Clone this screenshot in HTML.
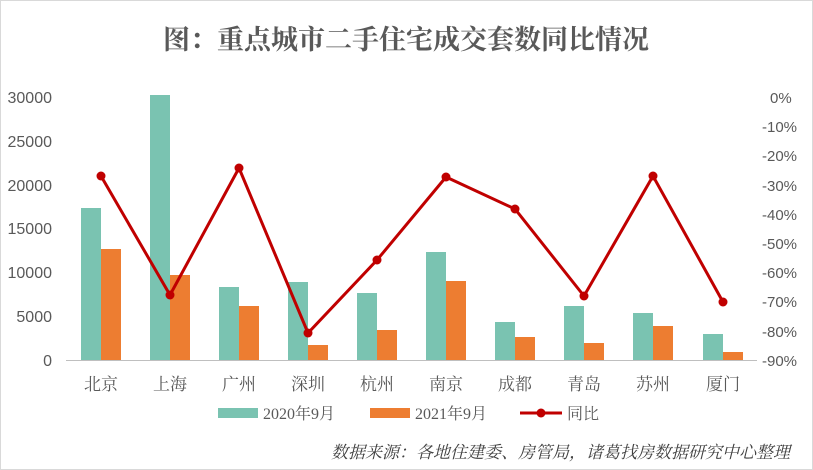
<!DOCTYPE html>
<html><head><meta charset="utf-8"><style>
body{margin:0;background:#fff;}
svg{display:block;}
</style></head><body>
<svg width="813" height="470" xmlns="http://www.w3.org/2000/svg" font-family="'Liberation Serif','Noto Serif CJK SC',serif">
<rect x="0.5" y="0.5" width="812" height="469" fill="#fff" stroke="#d9d9d9"/>
<text x="406" y="49" text-anchor="middle" font-size="27" font-weight="bold" fill="#595959" font-family="'Noto Serif CJK SC',serif">图：重点城市二手住宅成交套数同比情况</text>
<g font-size="16" fill="#595959" text-anchor="end" font-family="'Liberation Sans',sans-serif">
<text x="52" y="366">0</text><text x="52" y="322">5000</text><text x="52" y="278">10000</text>
<text x="52" y="234">15000</text><text x="52" y="191">20000</text><text x="52" y="147">25000</text><text x="52" y="103">30000</text>
</g>
<g font-size="15" fill="#595959" text-anchor="start" font-family="'Liberation Sans',sans-serif">
<text x="770" y="103">0%</text><text x="762" y="132">-10%</text><text x="762" y="161">-20%</text>
<text x="762" y="191">-30%</text><text x="762" y="220">-40%</text><text x="762" y="249">-50%</text>
<text x="762" y="278">-60%</text><text x="762" y="307">-70%</text><text x="762" y="337">-80%</text><text x="762" y="366">-90%</text>
</g>
<line x1="66" y1="360.5" x2="757" y2="360.5" stroke="#bfbfbf"/>
<g fill="#7ac3b1">
<rect x="81" y="208" width="20" height="152"/><rect x="150" y="95" width="20" height="265"/>
<rect x="219" y="287" width="20" height="73"/><rect x="288" y="282" width="20" height="78"/>
<rect x="357" y="293" width="20" height="67"/><rect x="426" y="252" width="20" height="108"/>
<rect x="495" y="322" width="20" height="38"/><rect x="564" y="306" width="20" height="54"/>
<rect x="633" y="313" width="20" height="47"/><rect x="703" y="334" width="20" height="26"/>
</g>
<g fill="#ed7d31">
<rect x="101" y="249" width="20" height="111"/><rect x="170" y="275" width="20" height="85"/>
<rect x="239" y="306" width="20" height="54"/><rect x="308" y="345" width="20" height="15"/>
<rect x="377" y="330" width="20" height="30"/><rect x="446" y="281" width="20" height="79"/>
<rect x="515" y="337" width="20" height="23"/><rect x="584" y="343" width="20" height="17"/>
<rect x="653" y="326" width="20" height="34"/><rect x="723" y="352" width="20" height="8"/>
</g>
<polyline fill="none" stroke="#c00000" stroke-width="3" points="101,176 170,295 239,168 308,333 377,260 446,177 515,209 584,296 653,176 723,302"/>
<g fill="#c00000">
<circle cx="101" cy="176" r="4.5"/><circle cx="170" cy="295" r="4.5"/><circle cx="239" cy="168" r="4.5"/>
<circle cx="308" cy="333" r="4.5"/><circle cx="377" cy="260" r="4.5"/><circle cx="446" cy="177" r="4.5"/>
<circle cx="515" cy="209" r="4.5"/><circle cx="584" cy="296" r="4.5"/><circle cx="653" cy="176" r="4.5"/>
<circle cx="723" cy="302" r="4.5"/>
</g>
<g font-size="17" fill="#595959" text-anchor="middle" font-family="'Noto Serif CJK SC',serif">
<text x="101" y="390">北京</text><text x="170" y="390">上海</text><text x="239" y="390">广州</text>
<text x="308" y="390">深圳</text><text x="377" y="390">杭州</text><text x="446" y="390">南京</text>
<text x="515" y="390">成都</text><text x="584" y="390">青岛</text><text x="653" y="390">苏州</text><text x="723" y="390">厦门</text>
</g>
<g font-size="16" fill="#595959">
<rect x="218" y="408" width="40" height="10" fill="#7ac3b1"/>
<text x="263" y="419">2020年9月</text>
<rect x="370" y="408" width="40" height="10" fill="#ed7d31"/>
<text x="415" y="419">2021年9月</text>
<line x1="520" y1="413" x2="562" y2="413" stroke="#c00000" stroke-width="3"/>
<circle cx="541" cy="413" r="4.5" fill="#c00000"/>
<text x="567" y="419">同比</text>
</g>
<text x="790" y="458" text-anchor="end" font-size="17" font-style="italic" fill="#404040" font-family="'Noto Serif CJK SC',serif">数据来源：各地住建委、房管局，诸葛找房数据研究中心整理</text>
</svg>
</body></html>
